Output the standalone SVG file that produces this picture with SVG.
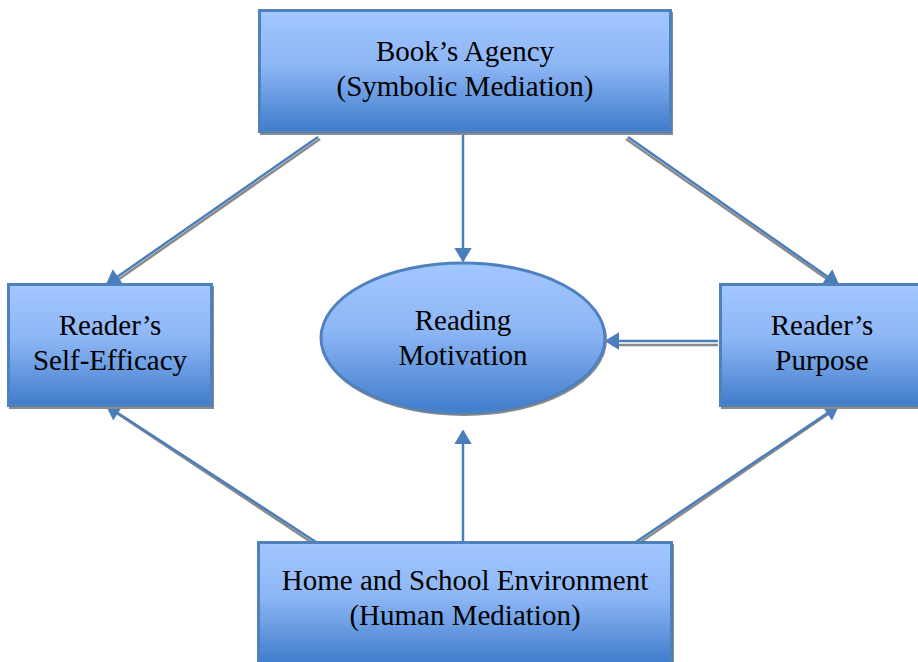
<svg xmlns="http://www.w3.org/2000/svg" width="918" height="662" viewBox="0 0 918 662">
  <style>
    .box { fill: url(#blueGrad); stroke: #4F81BD; stroke-width: 3; }
    .shadow { fill: #8A8A8A; }
    .label { font-family: "Liberation Serif", "Times New Roman", serif; font-size: 29px; fill: #000; text-anchor: middle; }
    .edge { stroke: #4A7EBB; stroke-width: 2.5; fill: none; marker-end: url(#arrow); }
    .edge-shadow { stroke: #8A8A8A; stroke-width: 2.5; fill: none; }
  </style>
  <defs>
    <linearGradient id="blueGrad" x1="0" y1="0" x2="0" y2="1">
      <stop offset="0" stop-color="#A3C7FF"/>
      <stop offset="0.45" stop-color="#8DB6F5"/>
      <stop offset="1" stop-color="#3F7CCB"/>
    </linearGradient>
    <!-- filled triangular arrowhead shared by every connector -->
    <marker id="arrow" viewBox="0 0 10 12" refX="9" refY="6" markerWidth="6" markerHeight="7" markerUnits="strokeWidth" orient="auto">
      <path d="M0,0 L10,6 L0,12 Z" fill="#4A7EBB"/>
    </marker>
  </defs>

  <!-- connectors -->
  <g id="connectors">
    <line class="edge-shadow" x1="320" y1="139" x2="112" y2="284"/>
    <line class="edge" x1="318" y1="137" x2="107" y2="284"/>
    <line class="edge" x1="463" y1="134" x2="463" y2="261"/>
    <line class="edge-shadow" x1="626" y1="139" x2="834" y2="284"/>
    <line class="edge" x1="628" y1="137" x2="838" y2="284"/>
    <line class="edge-shadow" x1="718" y1="345" x2="612" y2="345"/>
    <line class="edge" x1="718" y1="341" x2="606" y2="341"/>
    <line class="edge-shadow" x1="320" y1="548" x2="112" y2="410"/>
    <line class="edge" x1="322" y1="546" x2="107" y2="406"/>
    <line class="edge" x1="463" y1="546" x2="463" y2="431"/>
    <line class="edge-shadow" x1="632" y1="548" x2="834" y2="410"/>
    <line class="edge" x1="630" y1="546" x2="838" y2="406"/>
  </g>

  <g id="book-agency">
    <rect class="shadow" x="260" y="12" width="413" height="123"/>
    <rect class="box" x="259.5" y="10.5" width="411" height="121"/>
    <text class="label" x="465" y="61">Book’s Agency</text>
    <text class="label" x="465" y="96">(Symbolic Mediation)</text>
  </g>

  <g id="self-efficacy">
    <rect class="shadow" x="9" y="286" width="205" height="123"/>
    <rect class="box" x="8.5" y="284.5" width="203" height="121"/>
    <text class="label" x="110" y="335">Reader’s</text>
    <text class="label" x="110" y="370">Self-Efficacy</text>
  </g>

  <g id="reading-motivation">
    <ellipse class="shadow" cx="464" cy="340" rx="143" ry="76"/>
    <ellipse class="box" cx="463" cy="338" rx="142" ry="75"/>
    <text class="label" x="463" y="330">Reading</text>
    <text class="label" x="463" y="365">Motivation</text>
  </g>

  <g id="purpose">
    <rect class="shadow" x="721" y="286" width="205" height="123"/>
    <rect class="box" x="720.5" y="284.5" width="203" height="121"/>
    <text class="label" x="822" y="335">Reader’s</text>
    <text class="label" x="822" y="370">Purpose</text>
  </g>

  <g id="environment">
    <rect class="shadow" x="259" y="544" width="415" height="123"/>
    <rect class="box" x="258.5" y="542.5" width="413" height="121"/>
    <text class="label" x="465" y="590">Home and School Environment</text>
    <text class="label" x="465" y="625">(Human Mediation)</text>
  </g>
</svg>
